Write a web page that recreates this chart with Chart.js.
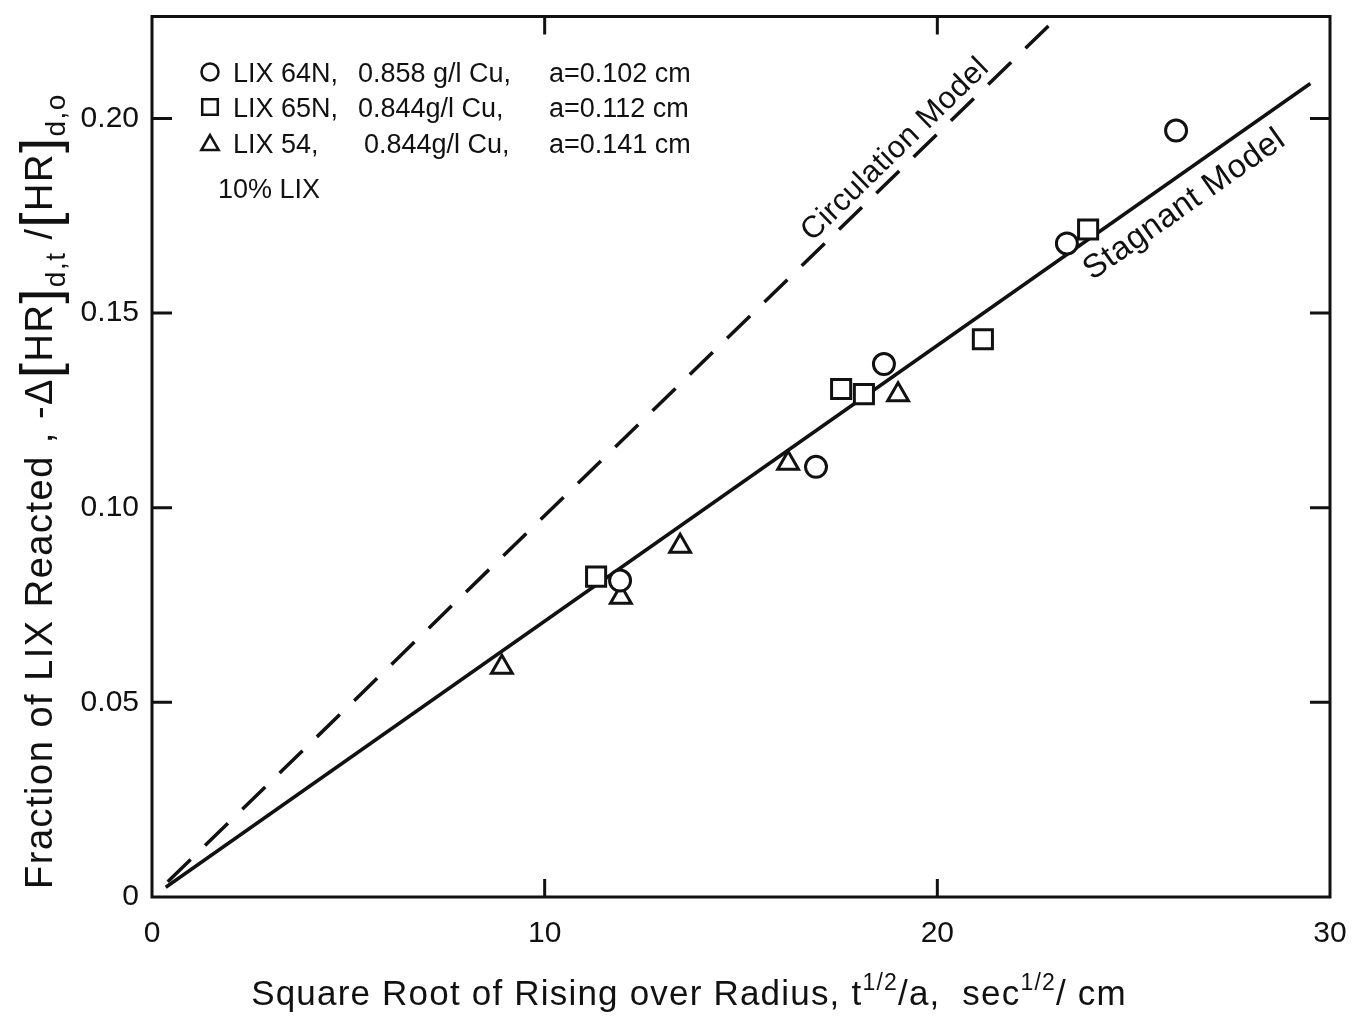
<!DOCTYPE html>
<html>
<head>
<meta charset="utf-8">
<title>LIX reacted vs rising time</title>
<script src="https://cdn.jsdelivr.net/npm/chart.js@4.4.1/dist/chart.umd.min.js"></script>
<style>
  body { margin: 0; background: #fff; }
  #wrap { width: 1359px; height: 1016px; position: relative; }
</style>
</head>
<body>
<div id="wrap"><canvas id="myChart"></canvas></div>
<script>
// measured drops: x = t^1/2 / a (sec^1/2/cm), y = fraction of LIX reacted
const lix64nX = [11.92, 16.91, 18.64, 23.30, 26.08]
const lix64nY = [0.0813, 0.1105, 0.1369, 0.1679, 0.1969]
const lix65nX = [11.31, 17.55, 18.13, 21.16, 23.84]
const lix65nY = [0.0823, 0.1305, 0.1292, 0.1433, 0.1715]
const lix54X = [8.91, 11.94, 13.45, 16.20, 19.00]
const lix54Y = [0.0590, 0.0770, 0.0901, 0.1114, 0.1290]

// model predictions (straight lines out of the origin)
const stagnantX = [0.35, 29.5]
const stagnantY = [0.0025, 0.209]
const circulationX = [0.4, 23.08]
const circulationY = [0.0039, 0.2262]

const xTicks = [0, 10, 20, 30]
const yTicks = [0, 0.05, 0.10, 0.15, 0.20]

const legendNames = ['LIX 64N,', 'LIX 65N,', 'LIX 54,']
const legendConc = ['0.858 g/l Cu,', '0.844g/l Cu,', '0.844g/l Cu,']
const legendRadius = ['a=0.102 cm', 'a=0.112 cm', 'a=0.141 cm']
const legendNote = '10% LIX'

const FONT = '"Liberation Sans", Arial, sans-serif'
const INK = '#111'

function toPoints(xs, ys){
    return xs.map((x, i) => ({x: x, y: ys[i]}))
}

// draw a run of text pieces (for sub/superscripts), centred on (x, y)
function drawRuns(ctx, runs, x, y, angle, spacing){
    ctx.save()
    ctx.letterSpacing = spacing + 'px'
    let total = 0
    runs.forEach(r => {
        ctx.font = r.size + 'px ' + FONT
        r.w = ctx.measureText(r.t).width
        total += r.w
    })
    ctx.translate(x, y)
    ctx.rotate(angle)
    ctx.fillStyle = INK
    ctx.textBaseline = 'alphabetic'
    let cx = -total / 2
    runs.forEach(r => {
        ctx.font = r.size + 'px ' + FONT
        ctx.fillText(r.t, cx, r.dy || 0)
        cx += r.w
    })
    ctx.restore()
}

// label laid along a model line, offset sideways from it
function lineLabel(ctx, x, y, xs, ys, atX, offset, size, text){
    const p1 = {x: x.getPixelForValue(xs[0]), y: y.getPixelForValue(ys[0])}
    const p2 = {x: x.getPixelForValue(xs[1]), y: y.getPixelForValue(ys[1])}
    const dx = p2.x - p1.x, dy = p2.y - p1.y
    const len = Math.hypot(dx, dy)
    const t = (x.getPixelForValue(atX) - p1.x) / dx
    const px = p1.x + t * dx, py = p1.y + t * dy
    // normal pointing up-left for positive offset
    const nx = dy / len, ny = -dx / len
    ctx.save()
    ctx.translate(px + nx * offset, py + ny * offset)
    ctx.rotate(Math.atan2(dy, dx))
    ctx.font = size + 'px ' + FONT
    ctx.letterSpacing = '0.5px'
    ctx.fillStyle = INK
    ctx.textAlign = 'center'
    ctx.textBaseline = 'middle'
    ctx.fillText(text, 0, 0)
    ctx.restore()
}

const frameAndText = {
    id: 'frameAndText',
    beforeDraw(chart){
        const ctx = chart.ctx
        ctx.save()
        ctx.fillStyle = '#fff'
        ctx.fillRect(0, 0, chart.width, chart.height)
        ctx.restore()
    },
    afterDraw(chart){
        const {ctx, chartArea: a, scales: {x, y}} = chart
        ctx.save()
        ctx.strokeStyle = INK
        ctx.lineWidth = 3
        ctx.strokeRect(a.left, a.top, a.width, a.height)

        // ticks point into the plot on all four sides
        ctx.beginPath()
        xTicks.slice(1, -1).forEach(v => {
            const px = x.getPixelForValue(v)
            ctx.moveTo(px, a.bottom); ctx.lineTo(px, a.bottom - 18)
            ctx.moveTo(px, a.top); ctx.lineTo(px, a.top + 18)
        })
        yTicks.slice(1).forEach(v => {
            const py = y.getPixelForValue(v)
            ctx.moveTo(a.left, py); ctx.lineTo(a.left + 20, py)
            ctx.moveTo(a.right, py); ctx.lineTo(a.right - 20, py)
        })
        ctx.stroke()

        // legend block
        const styles = ['circle', 'rect', 'triangle']
        const radii = [8.5, 11, 10]
        const rows = [72, 107, 143]
        ctx.lineWidth = 2.5
        rows.forEach((ry, i) => {
            ctx.fillStyle = '#fff'
            Chart.helpers.drawPoint(ctx, {pointStyle: styles[i], radius: radii[i], borderWidth: 2.5, rotation: 0}, 210, ry + (i == 2 ? 2 : 0))
            ctx.fillStyle = INK
            ctx.font = '27px ' + FONT
            ctx.textBaseline = 'alphabetic'
            ctx.fillText(legendNames[i], 233, ry + 10)
            ctx.fillText(legendConc[i], i == 2 ? 364 : 358, ry + 10)
            ctx.fillText(legendRadius[i], 549, ry + 10)
        })
        ctx.fillText(legendNote, 218, 198)

        lineLabel(ctx, x, y, circulationX, circulationY, 19.25, 18, 31, 'Circulation Model')
        lineLabel(ctx, x, y, stagnantX, stagnantY, 25.9, -27, 33, 'Stagnant Model')

        // axis titles with sub/superscripts
        drawRuns(ctx, [
            {t: 'Square Root of Rising over Radius, t', size: 35},
            {t: '1/2', size: 23, dy: -15},
            {t: '/a,  sec', size: 35},
            {t: '1/2', size: 23, dy: -15},
            {t: '/ cm', size: 35}
        ], 689, 1005, 0, 1.2)

        drawRuns(ctx, [
            {t: 'Fraction of LIX Reacted , -\u0394', size: 38},
            {t: '[', size: 54, dy: 6},
            {t: 'HR', size: 38},
            {t: ']', size: 54, dy: 6},
            {t: 'd,t', size: 28, dy: 13},
            {t: ' /', size: 38},
            {t: '[', size: 54, dy: 6},
            {t: 'HR', size: 38},
            {t: ']', size: 54, dy: 6},
            {t: 'd,o', size: 28, dy: 13}
        ], 52, 491, -Math.PI / 2, 1.5)
        ctx.restore()
    }
}

const markerBase = {
    showLine: false,
    borderColor: INK,
    backgroundColor: '#fff',
    borderWidth: 3,
    order: 0
}

// strip the label overflow padding so the plot frame sits where the layout says
function noPadding(scale){
    scale.paddingLeft = 0
    scale.paddingRight = 0
    scale.paddingTop = 0
    scale.paddingBottom = 0
}

new Chart('myChart', {
    type: 'scatter',
    data: {
        datasets: [
            Object.assign({}, markerBase, {label: 'LIX 64N', data: toPoints(lix64nX, lix64nY), pointStyle: 'circle', pointRadius: 10.5}),
            Object.assign({}, markerBase, {label: 'LIX 65N', data: toPoints(lix65nX, lix65nY), pointStyle: 'rect', pointRadius: 13.5}),
            Object.assign({}, markerBase, {label: 'LIX 54', data: toPoints(lix54X, lix54Y), pointStyle: 'triangle', pointRadius: 12}),
            {
                label: 'Stagnant Model',
                data: toPoints(stagnantX, stagnantY),
                showLine: true,
                pointRadius: 0,
                borderColor: INK,
                borderWidth: 3.5,
                order: 1
            },
            {
                label: 'Circulation Model',
                data: toPoints(circulationX, circulationY),
                showLine: true,
                pointRadius: 0,
                borderColor: INK,
                borderWidth: 3.5,
                borderDash: [32, 20],
                order: 1
            }
        ]
    },
    options: {
        responsive: true,
        maintainAspectRatio: false,
        animation: false,
        layout: {padding: {left: 0, top: 15, right: 29, bottom: 0}},
        plugins: {legend: {display: false}, tooltip: {enabled: false}},
        scales: {
            x: {
                type: 'linear',
                min: 0,
                max: 30,
                afterBuildTicks: scale => { scale.ticks = xTicks.map(v => ({value: v})) },
                afterFit: scale => { scale.height = 119; noPadding(scale) },
                grid: {display: false, drawTicks: false},
                border: {display: false},
                ticks: {color: INK, font: {family: FONT, size: 30}, padding: 19, maxRotation: 0}
            },
            y: {
                type: 'linear',
                min: 0,
                max: 0.2262,
                afterBuildTicks: scale => { scale.ticks = yTicks.map(v => ({value: v})) },
                afterFit: scale => { scale.width = 152; noPadding(scale) },
                grid: {display: false, drawTicks: false},
                border: {display: false},
                ticks: {
                    color: INK,
                    font: {family: FONT, size: 30},
                    padding: 13,
                    callback: v => v === 0 ? '0' : v.toFixed(2)
                }
            }
        }
    },
    plugins: [frameAndText]
})
</script>
</body>
</html>
